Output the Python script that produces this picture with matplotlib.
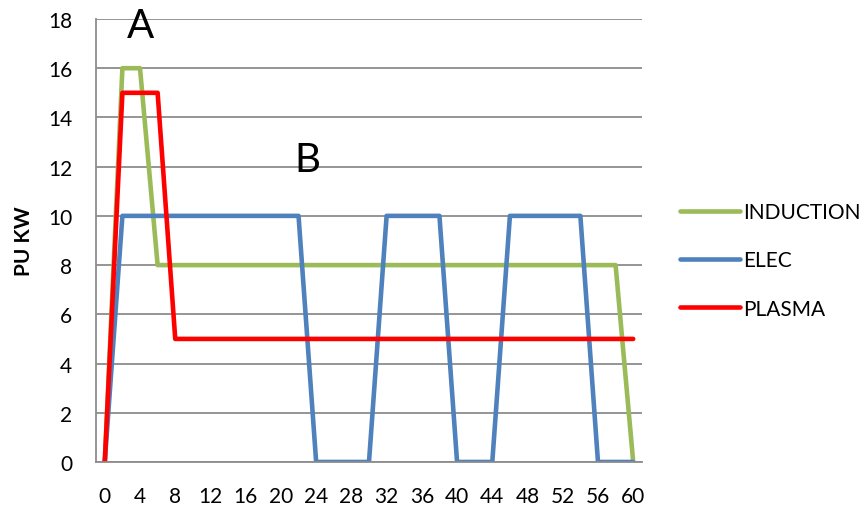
import matplotlib
matplotlib.use("Agg")
from matplotlib import pyplot as plt

plt.rcParams['font.family'] = ['Lato', 'DejaVu Sans']

# time axis, one point every 2 units
minutes = [0, 2, 4, 6, 8, 10, 12, 14, 16, 18, 20, 22, 24, 26, 28, 30,
           32, 34, 36, 38, 40, 42, 44, 46, 48, 50, 52, 54, 56, 58, 60]
induction = [0, 16, 16, 8, 8, 8, 8, 8, 8, 8, 8, 8, 8, 8, 8, 8,
             8, 8, 8, 8, 8, 8, 8, 8, 8, 8, 8, 8, 8, 8, 0]
elec = [0, 10, 10, 10, 10, 10, 10, 10, 10, 10, 10, 10, 0, 0, 0, 0,
        10, 10, 10, 10, 0, 0, 0, 10, 10, 10, 10, 10, 0, 0, 0]
plasma = [0, 15, 15, 15, 5, 5, 5, 5, 5, 5, 5, 5, 5, 5, 5, 5,
          5, 5, 5, 5, 5, 5, 5, 5, 5, 5, 5, 5, 5, 5, 5]
x_ticks = list(range(0, 61, 4))
y_ticks = list(range(0, 19, 2))

fig = plt.figure(figsize=(8.67, 5.10), dpi=100)
ax = fig.add_axes([0.1107, 0.0922, 0.6298, 0.8686])

style = dict(lw=3.3, solid_joinstyle='round', solid_capstyle='round')
ax.plot(minutes, induction, color='#9BBB59', label='INDUCTION', **style)
ax.plot(minutes, elec, color='#4F81BD', label='ELEC', **style)
ax.plot(minutes, plasma, color='#FF0000', label='PLASMA', **style)

ax.set_xlim(-1, 61)
ax.set_ylim(0, 18)
ax.set_xticks(x_ticks)
ax.set_yticks(y_ticks)
ax.tick_params(length=0, labelsize=15)
ax.tick_params(axis='x', pad=17)
ax.tick_params(axis='y', pad=17)
ax.grid(axis='y', color='#8c8c8c', lw=1.3)
ax.set_axisbelow(True)
for side in ['top', 'right']:
    ax.spines[side].set_visible(False)
for side in ['left', 'bottom']:
    ax.spines[side].set_color('#8c8c8c')
    ax.spines[side].set_linewidth(1.3)

ax.set_ylabel('PU KW', fontsize=15, fontweight='bold', labelpad=10)

ax.text(4, 17.75, 'A', fontsize=29, ha='center', va='center')
ax.text(23, 12.3, 'B', fontsize=29, ha='center', va='center')

ax.legend(loc='center left', bbox_to_anchor=(1.035, 0.455), frameon=False,
          fontsize=15, handlelength=2.9, handletextpad=0.15, labelspacing=1.35)

fig.savefig('out.png', dpi=100)
